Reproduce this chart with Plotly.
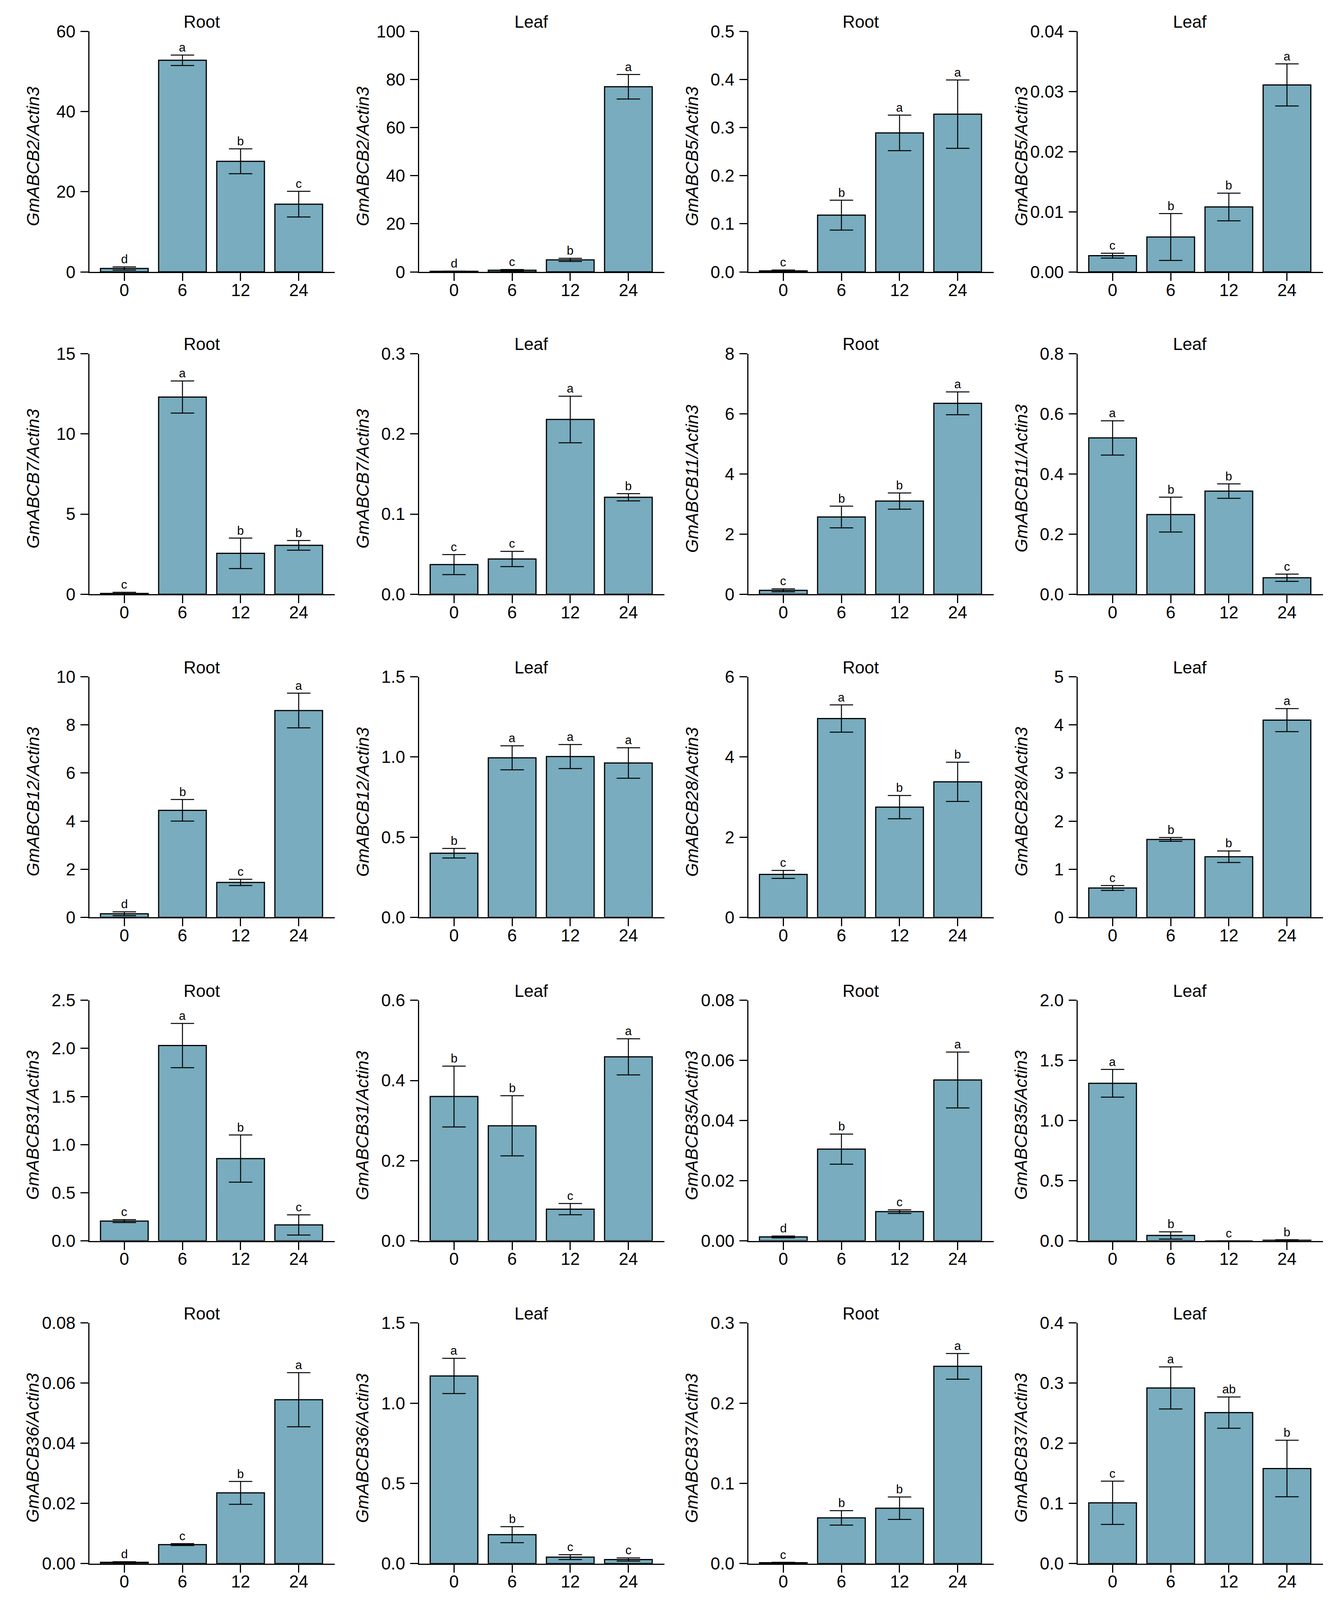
import plotly.graph_objects as go

# sampling times (h)
TIMES = ["0", "6", "12", "24"]

# relative expression (mean, error, significance letters)
ABCB2_ROOT = [0.85, 52.8, 27.6, 16.9]
ABCB2_ROOT_ERR = [0.4, 1.3, 3.1, 3.2]
ABCB2_ROOT_SIG = ["d", "a", "b", "c"]
ABCB2_LEAF = [0.25, 0.7, 5.0, 77.0]
ABCB2_LEAF_ERR = [0.1, 0.3, 0.65, 5.1]
ABCB2_LEAF_SIG = ["d", "c", "b", "a"]

ABCB5_ROOT = [0.002, 0.118, 0.289, 0.328]
ABCB5_ROOT_ERR = [0.002, 0.031, 0.037, 0.071]
ABCB5_ROOT_SIG = ["c", "b", "a", "a"]
ABCB5_LEAF = [0.0027, 0.0058, 0.0108, 0.0311]
ABCB5_LEAF_ERR = [0.0004, 0.0039, 0.0023, 0.0035]
ABCB5_LEAF_SIG = ["c", "b", "b", "a"]

ABCB7_ROOT = [0.05, 12.3, 2.55, 3.05]
ABCB7_ROOT_ERR = [0.07, 1.0, 0.95, 0.3]
ABCB7_ROOT_SIG = ["c", "a", "b", "b"]
ABCB7_LEAF = [0.037, 0.044, 0.218, 0.121]
ABCB7_LEAF_ERR = [0.0125, 0.0095, 0.029, 0.0045]
ABCB7_LEAF_SIG = ["c", "c", "a", "b"]

ABCB11_ROOT = [0.13, 2.57, 3.1, 6.35]
ABCB11_ROOT_ERR = [0.05, 0.36, 0.27, 0.38]
ABCB11_ROOT_SIG = ["c", "b", "b", "a"]
ABCB11_LEAF = [0.52, 0.265, 0.343, 0.055]
ABCB11_LEAF_ERR = [0.057, 0.058, 0.024, 0.012]
ABCB11_LEAF_SIG = ["a", "b", "b", "c"]

ABCB12_ROOT = [0.15, 4.45, 1.45, 8.6]
ABCB12_ROOT_ERR = [0.08, 0.45, 0.13, 0.72]
ABCB12_ROOT_SIG = ["d", "b", "c", "a"]
ABCB12_LEAF = [0.40, 0.995, 1.003, 0.963]
ABCB12_LEAF_ERR = [0.03, 0.075, 0.075, 0.095]
ABCB12_LEAF_SIG = ["b", "a", "a", "a"]

ABCB28_ROOT = [1.07, 4.96, 2.75, 3.38]
ABCB28_ROOT_ERR = [0.1, 0.34, 0.29, 0.49]
ABCB28_ROOT_SIG = ["c", "a", "b", "b"]
ABCB28_LEAF = [0.61, 1.62, 1.26, 4.1]
ABCB28_LEAF_ERR = [0.05, 0.04, 0.12, 0.24]
ABCB28_LEAF_SIG = ["c", "b", "b", "a"]

ABCB31_ROOT = [0.205, 2.03, 0.855, 0.165]
ABCB31_ROOT_ERR = [0.015, 0.23, 0.245, 0.105]
ABCB31_ROOT_SIG = ["c", "a", "b", "c"]
ABCB31_LEAF = [0.36, 0.287, 0.079, 0.459]
ABCB31_LEAF_ERR = [0.076, 0.075, 0.014, 0.045]
ABCB31_LEAF_SIG = ["b", "b", "c", "a"]

ABCB35_ROOT = [0.0013, 0.0305, 0.0097, 0.0535]
ABCB35_ROOT_ERR = [0.0003, 0.005, 0.0006, 0.0093]
ABCB35_ROOT_SIG = ["d", "b", "c", "a"]
ABCB35_LEAF = [1.31, 0.045, 0.0, 0.005]
ABCB35_LEAF_ERR = [0.115, 0.03, 0.0, 0.004]
ABCB35_LEAF_SIG = ["a", "b", "c", "b"]

ABCB36_ROOT = [0.0004, 0.0063, 0.0235, 0.0545]
ABCB36_ROOT_ERR = [0.0002, 0.0003, 0.0038, 0.009]
ABCB36_ROOT_SIG = ["d", "c", "b", "a"]
ABCB36_LEAF = [1.17, 0.18, 0.04, 0.025]
ABCB36_LEAF_ERR = [0.11, 0.05, 0.015, 0.01]
ABCB36_LEAF_SIG = ["a", "b", "c", "c"]

ABCB37_ROOT = [0.001, 0.057, 0.069, 0.246]
ABCB37_ROOT_ERR = [0.0005, 0.009, 0.014, 0.016]
ABCB37_ROOT_SIG = ["c", "b", "b", "a"]
ABCB37_LEAF = [0.101, 0.292, 0.251, 0.158]
ABCB37_LEAF_ERR = [0.036, 0.035, 0.026, 0.047]
ABCB37_LEAF_SIG = ["c", "a", "ab", "b"]

# panels in reading order: (gene, tissue, mean, err, letters)
PANELS = [
    ("GmABCB2", "Root", ABCB2_ROOT, ABCB2_ROOT_ERR, ABCB2_ROOT_SIG),
    ("GmABCB2", "Leaf", ABCB2_LEAF, ABCB2_LEAF_ERR, ABCB2_LEAF_SIG),
    ("GmABCB5", "Root", ABCB5_ROOT, ABCB5_ROOT_ERR, ABCB5_ROOT_SIG),
    ("GmABCB5", "Leaf", ABCB5_LEAF, ABCB5_LEAF_ERR, ABCB5_LEAF_SIG),
    ("GmABCB7", "Root", ABCB7_ROOT, ABCB7_ROOT_ERR, ABCB7_ROOT_SIG),
    ("GmABCB7", "Leaf", ABCB7_LEAF, ABCB7_LEAF_ERR, ABCB7_LEAF_SIG),
    ("GmABCB11", "Root", ABCB11_ROOT, ABCB11_ROOT_ERR, ABCB11_ROOT_SIG),
    ("GmABCB11", "Leaf", ABCB11_LEAF, ABCB11_LEAF_ERR, ABCB11_LEAF_SIG),
    ("GmABCB12", "Root", ABCB12_ROOT, ABCB12_ROOT_ERR, ABCB12_ROOT_SIG),
    ("GmABCB12", "Leaf", ABCB12_LEAF, ABCB12_LEAF_ERR, ABCB12_LEAF_SIG),
    ("GmABCB28", "Root", ABCB28_ROOT, ABCB28_ROOT_ERR, ABCB28_ROOT_SIG),
    ("GmABCB28", "Leaf", ABCB28_LEAF, ABCB28_LEAF_ERR, ABCB28_LEAF_SIG),
    ("GmABCB31", "Root", ABCB31_ROOT, ABCB31_ROOT_ERR, ABCB31_ROOT_SIG),
    ("GmABCB31", "Leaf", ABCB31_LEAF, ABCB31_LEAF_ERR, ABCB31_LEAF_SIG),
    ("GmABCB35", "Root", ABCB35_ROOT, ABCB35_ROOT_ERR, ABCB35_ROOT_SIG),
    ("GmABCB35", "Leaf", ABCB35_LEAF, ABCB35_LEAF_ERR, ABCB35_LEAF_SIG),
    ("GmABCB36", "Root", ABCB36_ROOT, ABCB36_ROOT_ERR, ABCB36_ROOT_SIG),
    ("GmABCB36", "Leaf", ABCB36_LEAF, ABCB36_LEAF_ERR, ABCB36_LEAF_SIG),
    ("GmABCB37", "Root", ABCB37_ROOT, ABCB37_ROOT_ERR, ABCB37_ROOT_SIG),
    ("GmABCB37", "Leaf", ABCB37_LEAF, ABCB37_LEAF_ERR, ABCB37_LEAF_SIG),
]

# y axis top, tick step and tick format per panel
Y_MAX = [60, 100, 0.5, 0.04, 15, 0.3, 8, 0.8, 10, 1.5,
         6, 5, 2.5, 0.6, 0.08, 2.0, 0.08, 1.5, 0.3, 0.4]
Y_STEP = [20, 20, 0.1, 0.01, 5, 0.1, 2, 0.2, 2, 0.5,
          2, 1, 0.5, 0.2, 0.02, 0.5, 0.02, 0.5, 0.1, 0.1]
Y_FMT = ["d", "d", ".1f", ".2f", "d", ".1f", "d", ".1f", "d", ".1f",
         "d", "d", ".1f", ".1f", ".2f", ".1f", ".2f", ".1f", ".1f", ".1f"]

W, H = 3410, 4157
COL_LEFT = [221, 1065, 1908, 2751]
ROW_TOP = [48, 883, 1720, 2558, 3394]
PLOT_W, PLOT_H = 628, 623

BAR_COLOR = "#78acbe"
FONT = "Liberation Sans, Arial, sans-serif"

fig = go.Figure()
annotations = []

for i, (gene, tissue, mean, err, sig) in enumerate(PANELS):
    r, c = divmod(i, 4)
    n = i + 1
    xa = "x" if n == 1 else f"x{n}"
    ya = "y" if n == 1 else f"y{n}"
    left, top = COL_LEFT[c], ROW_TOP[r]

    fig.add_trace(go.Bar(
        x=TIMES, y=mean, width=0.82,
        marker=dict(color=BAR_COLOR, line=dict(color="black", width=3)),
        error_y=dict(type="data", array=err, visible=True,
                     color="black", thickness=2.5, width=30),
        xaxis=xa, yaxis=ya, showlegend=False,
    ))

    fig.layout[f"xaxis{'' if n == 1 else n}"] = dict(
        domain=[left / W, (left + PLOT_W) / W],
        anchor=ya, type="category", range=[-0.6, 3.62],
        showline=True, linecolor="black", linewidth=3,
        ticks="outside", ticklen=20, tickwidth=3, tickcolor="black",
        showgrid=False, zeroline=False, ticklabelstandoff=-14,
        tickfont=dict(family=FONT, size=44, color="black"),
    )
    fig.layout[f"yaxis{'' if n == 1 else n}"] = dict(
        domain=[1 - (top + PLOT_H) / H, 1 - top / H],
        anchor=xa, range=[0, Y_MAX[i]], tick0=0, dtick=Y_STEP[i],
        tickformat=Y_FMT[i],
        showline=True, linecolor="black", linewidth=3,
        ticks="outside", ticklen=20, tickwidth=3, tickcolor="black",
        showgrid=False, zeroline=False, ticklabelstandoff=4,
        tickfont=dict(family=FONT, size=44, color="black"),
    )

    # panel title
    annotations.append(dict(
        text=tissue, xref="paper", yref="paper",
        x=(left + PLOT_W / 2 - 27) / W, y=1 - (top - 25) / H,
        xanchor="center", yanchor="middle", showarrow=False,
        font=dict(family=FONT, size=44, color="black"),
    ))
    # y axis title
    annotations.append(dict(
        text=f"<i>{gene}/Actin3</i>", xref="paper", yref="paper",
        x=(left - 145) / W, y=1 - (top + PLOT_H / 2 + 12) / H,
        xanchor="center", yanchor="middle", textangle=-90, showarrow=False,
        font=dict(family=FONT, size=45, color="black"),
    ))
    # significance letters above the error bars
    for j, (m, e, s) in enumerate(zip(mean, err, sig)):
        annotations.append(dict(
            text=s, xref=xa, yref=ya, x=j, y=m + e,
            xanchor="center", yanchor="bottom", yshift=0, showarrow=False,
            font=dict(family=FONT, size=31, color="black"),
        ))

fig.update_layout(
    width=W, height=H,
    margin=dict(l=0, r=0, t=0, b=0),
    plot_bgcolor="white", paper_bgcolor="white",
    annotations=annotations,
    showlegend=False,
)

fig.write_html("out.html")
